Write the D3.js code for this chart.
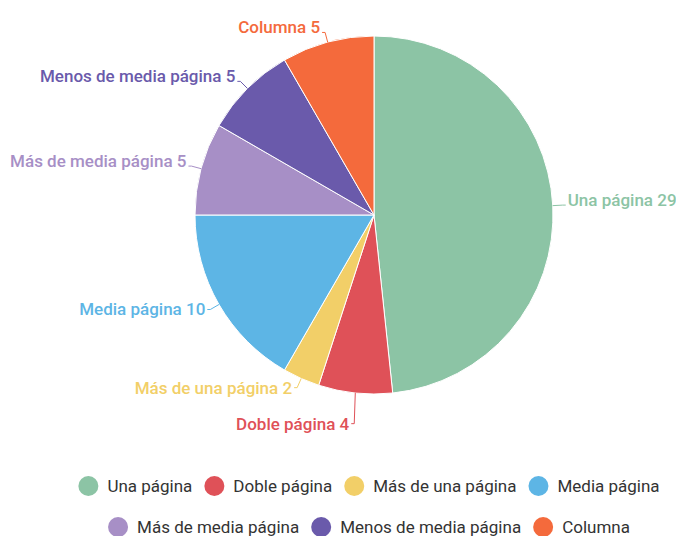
<!DOCTYPE html>
<html>
<head>
<meta charset="utf-8">
<script src="https://cdn.jsdelivr.net/npm/d3@7"></script>
<style>
  body { margin: 0; background: #fff; font-family: Roboto, "Noto Sans", sans-serif; }
</style>
</head>
<body>
<div id="chart"></div>
<script>
/* DATA */
const categories = ["Una página", "Doble página", "Más de una página", "Media página",
  "Más de media página", "Menos de media página", "Columna"];
const values = [29, 4, 2, 10, 5, 5, 5];
const colors = ["#8cc4a5", "#df5158", "#f2cf68", "#5db5e5", "#a78fc6", "#6a5aab", "#f46a3c"];

/* CONSTANTS */
const width = 676, height = 536,
  cx = 374, cy = 215, radius = 179;

const svg = d3.select("#chart").append("svg")
  .attr("width", width)
  .attr("height", height);

const data = categories.map((c, i) => ({ name: c, value: values[i], color: colors[i] }));

const pie = d3.pie().sort(null).value(d => d.value);
const arcs = pie(data);
const arcGen = d3.arc().innerRadius(0).outerRadius(radius);

const g = svg.append("g").attr("transform", `translate(${cx},${cy})`);

g.selectAll("path.slice")
  .data(arcs)
  .join("path")
  .attr("class", "slice")
  .attr("d", arcGen)
  .attr("fill", d => d.data.color)
  .attr("stroke", "#fff")
  .attr("stroke-width", 1);

// label layout: point on arc -> elbow -> short horizontal
const labels = arcs.map(d => {
  const a = (d.startAngle + d.endAngle) / 2;
  const s = Math.sin(a), c = -Math.cos(a);
  const right = s >= 0;
  const p0 = [radius * s, radius * c];
  const p1 = [(radius + 10) * s, (radius + 10) * c];
  return { d, right, p0, p1, y: p1[1], upper: c < 0 };
});

// push overlapping labels down on each side
[true, false].forEach(side => {
  const list = labels.filter(l => l.right === side).sort((a, b) => a.y - b.y);
  const gap = 36;
  for (let k = 1; k < list.length; k++) {
    if (list[k].y - list[k - 1].y < gap) list[k].y = list[k - 1].y + gap;
  }
});

labels.forEach(l => {
  const dir = l.right ? 1 : -1;
  const p1 = [l.p1[0], l.y];
  const p2 = [p1[0] + dir * 3, l.y];
  g.append("path")
    .attr("d", d3.line()([l.p0, p1, p2]))
    .attr("fill", "none")
    .attr("stroke", l.d.data.color)
    .attr("stroke-width", 1);
  g.append("text")
    .attr("x", p2[0] + dir * 2)
    .attr("y", p2[1])
    .attr("dy", l.upper ? "0.05em" : "0.35em")
    .attr("text-anchor", l.right ? "start" : "end")
    .attr("fill", l.d.data.color)
    .style("font-size", "17px")
    .style("font-weight", 500)
    .text(`${l.d.data.name} ${l.d.data.value}`);
});

/* LEGEND */
const rows = [data.slice(0, 4), data.slice(4)];
const rowY = [486, 527];
const legendCenter = 369;
rows.forEach((items, r) => {
  const row = svg.append("g");
  let x = 0;
  items.forEach(it => {
    const item = row.append("g").attr("transform", `translate(${x},${rowY[r]})`);
    item.append("circle").attr("cx", 10).attr("cy", 0).attr("r", 10).attr("fill", it.color);
    const t = item.append("text")
      .attr("x", 29)
      .attr("dy", "0.35em")
      .attr("fill", "#333")
      .style("font-size", "17px")
      .text(it.name);
    x += 29 + t.node().getComputedTextLength() + 12;
  });
  const w = x - 12;
  row.attr("transform", `translate(${legendCenter - w / 2},0)`);
});
</script>
</body>
</html>
